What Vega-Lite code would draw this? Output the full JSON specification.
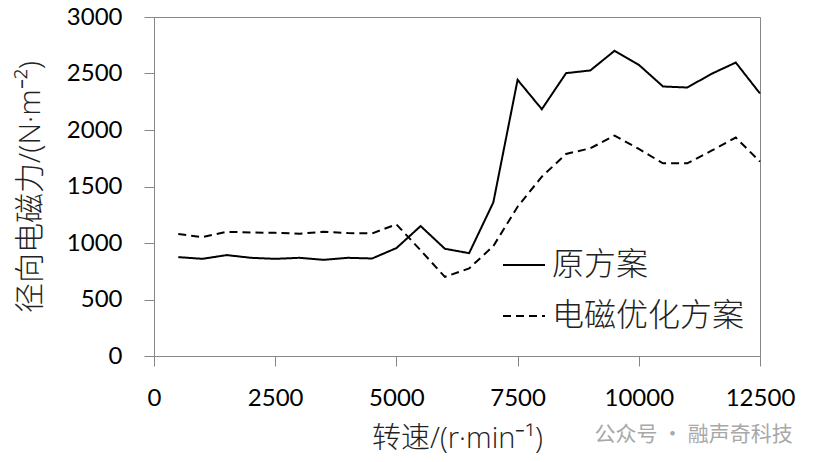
{
  "$schema": "https://vega.github.io/schema/vega-lite/v6.json",
  "width": 606,
  "height": 339,
  "autosize": {"type": "none"},
  "padding": {"left": 154, "top": 17, "right": 55, "bottom": 106},
  "background": "white",
  "title": {
    "text": "公众号 · 融声奇科技",
    "orient": "bottom",
    "anchor": "end",
    "font": "Noto Sans CJK SC",
    "fontSize": 21,
    "fontWeight": "normal",
    "color": "#a8a8a8",
    "dx": -2,
    "offset": -29
  },
  "data": {
    "values": [
      {"转速": 500, "径向电磁力": 875, "方案": "原方案"},
      {"转速": 1000, "径向电磁力": 860, "方案": "原方案"},
      {"转速": 1500, "径向电磁力": 893, "方案": "原方案"},
      {"转速": 2000, "径向电磁力": 869, "方案": "原方案"},
      {"转速": 2500, "径向电磁力": 860, "方案": "原方案"},
      {"转速": 3000, "径向电磁力": 869, "方案": "原方案"},
      {"转速": 3500, "径向电磁力": 851, "方案": "原方案"},
      {"转速": 4000, "径向电磁力": 869, "方案": "原方案"},
      {"转速": 4500, "径向电磁力": 863, "方案": "原方案"},
      {"转速": 5000, "径向电磁力": 955, "方案": "原方案"},
      {"转速": 5500, "径向电磁力": 1150, "方案": "原方案"},
      {"转速": 6000, "径向电磁力": 949, "方案": "原方案"},
      {"转速": 6500, "径向电磁力": 910, "方案": "原方案"},
      {"转速": 7000, "径向电磁力": 1360, "方案": "原方案"},
      {"转速": 7500, "径向电磁力": 2444, "方案": "原方案"},
      {"转速": 8000, "径向电磁力": 2184, "方案": "原方案"},
      {"转速": 8500, "径向电磁力": 2503, "方案": "原方案"},
      {"转速": 9000, "径向电磁力": 2527, "方案": "原方案"},
      {"转速": 9500, "径向电磁力": 2701, "方案": "原方案"},
      {"转速": 10000, "径向电磁力": 2577, "方案": "原方案"},
      {"转速": 10500, "径向电磁力": 2385, "方案": "原方案"},
      {"转速": 11000, "径向电磁力": 2376, "方案": "原方案"},
      {"转速": 11500, "径向电磁力": 2497, "方案": "原方案"},
      {"转速": 12000, "径向电磁力": 2597, "方案": "原方案"},
      {"转速": 12500, "径向电磁力": 2323, "方案": "原方案"},
      {"转速": 500, "径向电磁力": 1079, "方案": "电磁优化方案"},
      {"转速": 1000, "径向电磁力": 1052, "方案": "电磁优化方案"},
      {"转速": 1500, "径向电磁力": 1099, "方案": "电磁优化方案"},
      {"转速": 2000, "径向电磁力": 1093, "方案": "电磁优化方案"},
      {"转速": 2500, "径向电磁力": 1090, "方案": "电磁优化方案"},
      {"转速": 3000, "径向电磁力": 1082, "方案": "电磁优化方案"},
      {"转速": 3500, "径向电磁力": 1099, "方案": "电磁优化方案"},
      {"转速": 4000, "径向电磁力": 1088, "方案": "电磁优化方案"},
      {"转速": 4500, "径向电磁力": 1085, "方案": "电磁优化方案"},
      {"转速": 5000, "径向电磁力": 1165, "方案": "电磁优化方案"},
      {"转速": 5500, "径向电磁力": 935, "方案": "电磁优化方案"},
      {"转速": 6000, "径向电磁力": 700, "方案": "电磁优化方案"},
      {"转速": 6500, "径向电磁力": 775, "方案": "电磁优化方案"},
      {"转速": 7000, "径向电磁力": 973, "方案": "电磁优化方案"},
      {"转速": 7500, "径向电磁力": 1321, "方案": "电磁优化方案"},
      {"转速": 8000, "径向电磁力": 1587, "方案": "电磁优化方案"},
      {"转速": 8500, "径向电磁力": 1788, "方案": "电磁优化方案"},
      {"转速": 9000, "径向电磁力": 1838, "方案": "电磁优化方案"},
      {"转速": 9500, "径向电磁力": 1950, "方案": "电磁优化方案"},
      {"转速": 10000, "径向电磁力": 1832, "方案": "电磁优化方案"},
      {"转速": 10500, "径向电磁力": 1705, "方案": "电磁优化方案"},
      {"转速": 11000, "径向电磁力": 1705, "方案": "电磁优化方案"},
      {"转速": 11500, "径向电磁力": 1817, "方案": "电磁优化方案"},
      {"转速": 12000, "径向电磁力": 1933, "方案": "电磁优化方案"},
      {"转速": 12500, "径向电磁力": 1720, "方案": "电磁优化方案"}
    ]
  },
  "mark": {"type": "line", "color": "black", "strokeWidth": 2},
  "encoding": {
    "x": {
      "field": "转速",
      "type": "quantitative",
      "title": "转速/(r·min⁻¹)",
      "scale": {"domain": [0, 12500], "nice": false, "zero": true},
      "axis": {
        "values": [0, 2500, 5000, 7500, 10000, 12500],
        "format": "d",
        "grid": false,
        "domainColor": "#868686",
        "tickColor": "#868686",
        "tickSize": 10,
        "labelFont": "Lato",
        "labelFontSize": 24,
        "labelColor": "black",
        "labelPadding": 20,
        "labelFlush": false,
        "labelOverlap": false,
        "titleFont": "Open Sans, Noto Sans CJK SC",
        "titleFontSize": 29,
        "titleFontWeight": 300,
        "titleColor": "#222222",
        "titlePadding": 14
      }
    },
    "y": {
      "field": "径向电磁力",
      "type": "quantitative",
      "title": "径向电磁力/(N·m⁻²)",
      "scale": {"domain": [0, 3000], "nice": false},
      "axis": {
        "values": [0, 500, 1000, 1500, 2000, 2500, 3000],
        "format": "d",
        "grid": false,
        "domainColor": "#868686",
        "tickColor": "#868686",
        "tickSize": 10,
        "labelFont": "Lato",
        "labelFontSize": 24,
        "labelColor": "black",
        "labelPadding": 22,
        "labelFlush": false,
        "titleFont": "Open Sans, Noto Sans CJK SC",
        "titleFontSize": 30,
        "titleFontWeight": 300,
        "titleColor": "#222222",
        "titlePadding": 21
      }
    },
    "strokeDash": {
      "field": "方案",
      "type": "nominal",
      "scale": {"domain": ["原方案", "电磁优化方案"], "range": [[1, 0], [8, 5]]},
      "legend": {
        "title": null,
        "orient": "none",
        "legendX": 348,
        "legendY": 226,
        "symbolType": "stroke",
        "symbolSize": 1764,
        "symbolStrokeWidth": 2,
        "symbolStrokeColor": "black",
        "labelFont": "Noto Sans CJK SC",
        "labelFontSize": 32,
        "labelFontWeight": 300,
        "labelColor": "#222222",
        "labelOffset": 6,
        "labelLimit": 400,
        "rowPadding": 13
      }
    }
  },
  "config": {
    "view": {"stroke": "#868686", "strokeWidth": 1}
  }
}
